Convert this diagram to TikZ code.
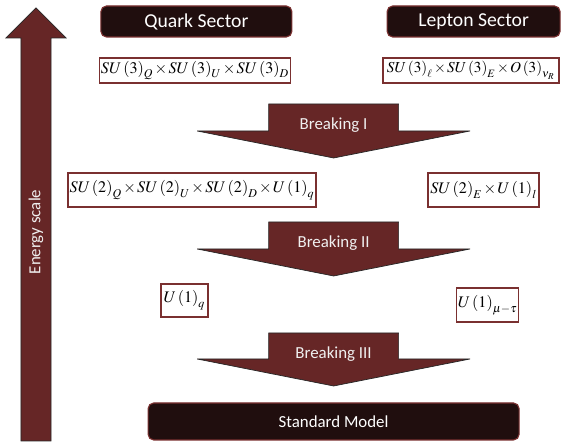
\documentclass[tikz,border=0pt]{standalone}
\usepackage{mathptmx}
\usepackage[no-math]{fontspec}
\setmainfont{Carlito}
\usepackage{xcolor}
\definecolor{maroon}{HTML}{662626}
\definecolor{darkbox}{HTML}{200E0E}
\definecolor{boxedge}{HTML}{7A3030}
\medmuskip=1.5mu plus 1mu minus 1mu

\begin{document}
\begin{tikzpicture}[
    sector/.style={draw=boxedge, thick, fill=darkbox, rounded corners=4pt, text=white, font=\fontsize{14}{16}\selectfont, minimum height=0.775cm},
    group/.style={draw=boxedge, line width=1.2pt, fill=white, inner sep=1pt, font=\fontsize{11.5}{13}\selectfont},
    blockarrow/.style={fill=maroon, draw=black!85, line width=0.5pt},
    arrowlabel/.style={text=white!94!black, font=\fontsize{12}{14}\selectfont}
]

\useasboundingbox (0,0) rectangle (14.225,11.125);

% Energy scale arrow
\draw[blockarrow] (0.525,0.1) -- (0.525,10.175) -- (0.15,10.175) -- (0.9,10.925) -- (1.65,10.175) -- (1.275,10.175) -- (1.275,0.1) -- cycle;
\node[arrowlabel, rotate=90] (energy) at (0.9,5.325) {Energy scale};

% Sector headers
\node[sector, minimum width=4.775cm] (quark) at (4.91,10.5875) {Quark Sector};
\node[sector, minimum width=4.325cm] (lepton) at (11.84,10.5875) {Lepton Sector};

% Flavour groups
\node[group, minimum width=4.6cm, minimum height=0.625cm] (quarkthree) at (4.875,9.3625)
    {$SU\left(3\right)_{Q}\times SU\left(3\right)_{U}\times SU\left(3\right)_{D}$};
\node[group, font=\fontsize{10.8}{12}\selectfont, minimum width=4.4cm, minimum height=0.625cm] (leptonthree) at (11.775,9.3625)
    {$SU\left(3\right)_{\ell}\times SU\left(3\right)_{E}\times O\left(3\right)_{\nu_R}$};

% Breaking I
\draw[blockarrow] (6.715,8.525) -- (9.965,8.525) -- (9.965,7.85) -- (11.75,7.85) -- (8.34,7.175) -- (4.93,7.85) -- (6.715,7.85) -- cycle;
\node[arrowlabel] (breakone) at (8.34,8.0) {Breaking I};

% After breaking I
\node[group, minimum width=6.2cm, minimum height=0.85cm] (quarktwo) at (4.8,6.375)
    {$SU\left(2\right)_{Q}\times SU\left(2\right)_{U}\times SU\left(2\right)_{D}\times U\left(1\right)_{q}$};
\node[group, minimum width=2.775cm, minimum height=0.85cm] (leptontwo) at (12.09,6.375)
    {$SU\left(2\right)_{E}\times U\left(1\right)_{l}$};

% Breaking II
\draw[blockarrow] (6.715,5.575) -- (9.965,5.575) -- (9.965,4.9) -- (11.75,4.9) -- (8.34,4.225) -- (4.93,4.9) -- (6.715,4.9) -- cycle;
\node[arrowlabel] (breaktwo) at (8.34,5.05) {Breaking II};

% After breaking II
\node[group, minimum width=1.175cm, minimum height=0.825cm] (quarkone) at (4.61,3.6125)
    {$U\left(1\right)_{q}$};
\node[group, minimum width=1.475cm, minimum height=0.85cm] (leptonone) at (12.19,3.5)
    {$U\left(1\right)_{\mu-\tau}$};

% Breaking III
\draw[blockarrow] (6.715,2.8) -- (9.965,2.8) -- (9.965,2.15) -- (11.75,2.15) -- (8.34,1.475) -- (4.93,2.15) -- (6.715,2.15) -- cycle;
\node[arrowlabel] (breakthree) at (8.34,2.275) {Breaking III};

% Standard Model
\node[sector, font=\fontsize{12}{14}\selectfont, minimum width=9.275cm, minimum height=0.925cm] (sm) at (8.34,0.5875) {Standard Model};

\end{tikzpicture}
\end{document}
